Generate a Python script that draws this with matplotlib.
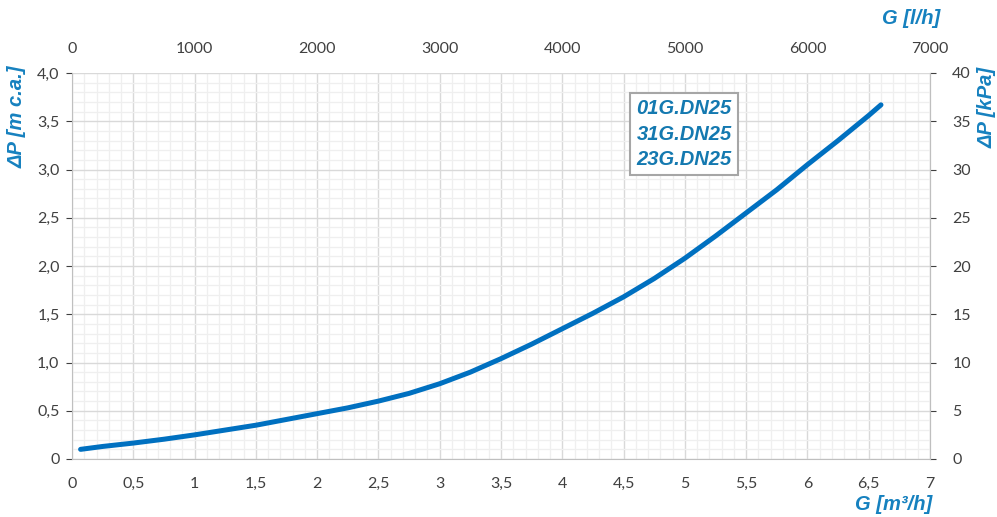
import numpy as np
import matplotlib.pyplot as plt
from matplotlib.ticker import MultipleLocator, FixedLocator

# Data (G in m3/h, dP in m c.a.)
flow_m3h = [0.07, 0.25, 0.5, 0.75, 1.0, 1.25, 1.5, 1.75, 2.0, 2.25, 2.5, 2.75, 3.0, 3.25,
            3.5, 3.75, 4.0, 4.25, 4.5, 4.75, 5.0, 5.25, 5.5, 5.75, 6.0, 6.25, 6.5, 6.6]
dp_mca = [0.10, 0.13, 0.165, 0.205, 0.25, 0.30, 0.35, 0.41, 0.47, 0.53, 0.60, 0.68, 0.78, 0.90,
          1.04, 1.19, 1.35, 1.51, 1.68, 1.87, 2.08, 2.31, 2.55, 2.79, 3.05, 3.30, 3.56, 3.67]

models = ['01G.DN25', '31G.DN25', '23G.DN25']

x_ticks = [0, 0.5, 1, 1.5, 2, 2.5, 3, 3.5, 4, 4.5, 5, 5.5, 6, 6.5, 7]
x_labels = ['0', '0,5', '1', '1,5', '2', '2,5', '3', '3,5', '4', '4,5', '5', '5,5', '6', '6,5', '7']
y_ticks = [0, 0.5, 1, 1.5, 2, 2.5, 3, 3.5, 4]
y_labels = ['0', '0,5', '1,0', '1,5', '2,0', '2,5', '3,0', '3,5', '4,0']
top_ticks = [0, 1000, 2000, 3000, 4000, 5000, 6000, 7000]
right_ticks = [0, 5, 10, 15, 20, 25, 30, 35, 40]

line_col = '#0070c0'
label_col = '#1681bf'
tick_col = '#404040'
spine_col = '#bfbfbf'

W, H = 997, 517
fig = plt.figure(figsize=(W / 100, H / 100), dpi=100)
ax = fig.add_axes([72 / W, 1 - 459 / H, (930 - 72) / W, (459 - 73) / H])

ax.plot(flow_m3h, dp_mca, color=line_col, lw=3.6, solid_capstyle='round',
        solid_joinstyle='round', zorder=5)

ax.set_xlim(0, 7)
ax.set_ylim(0, 4)
ax.xaxis.set_major_locator(FixedLocator(x_ticks))
ax.set_xticklabels(x_labels)
ax.yaxis.set_major_locator(FixedLocator(y_ticks))
ax.set_yticklabels(y_labels)
ax.xaxis.set_minor_locator(MultipleLocator(0.1))
ax.yaxis.set_minor_locator(MultipleLocator(0.1))
ax.grid(which='major', color='#d9d9d9', lw=1.0, zorder=1)
ax.grid(which='minor', color='#efefef', lw=0.9, zorder=0)
ax.set_axisbelow(True)

tick_family = ['Lato', 'DejaVu Sans']
tick_size = 11.5
for lab in ax.get_xticklabels() + ax.get_yticklabels():
    lab.set_fontfamily(tick_family)
    lab.set_fontsize(tick_size)
ax.tick_params(axis='x', which='major', colors=tick_col, length=0, pad=13)
ax.tick_params(axis='y', which='major', colors=tick_col, length=4, pad=5)
ax.tick_params(which='minor', length=0)
for s in ['left', 'bottom', 'right']:
    ax.spines[s].set_color(spine_col)
ax.spines['top'].set_visible(False)

# secondary axes: l/h on top, kPa on right
top = ax.secondary_xaxis('top', functions=(lambda x: x * 1000, lambda x: x / 1000))
top.set_xticks(top_ticks)
top.tick_params(colors=tick_col, length=0, pad=12, labelsize=tick_size)
top.spines['top'].set_visible(False)
right = ax.secondary_yaxis('right', functions=(lambda y: y * 10, lambda y: y / 10))
right.set_yticks(right_ticks)
right.tick_params(colors=tick_col, length=4, pad=12, labelsize=tick_size)
right.spines['right'].set_color(spine_col)
for lab in top.get_xticklabels() + right.get_yticklabels():
    lab.set_fontfamily(tick_family)

lab_font = dict(family=['Liberation Sans', 'DejaVu Sans'], size=14.5, weight='bold',
                style='italic', color=label_col)
fig.text(17 / W, 1 - 117 / H, 'ΔP [m c.a.]', rotation=90, ha='center', va='center', **lab_font)
fig.text(987 / W, 1 - 107 / H, 'ΔP [kPa]', rotation=90, ha='center', va='center', **lab_font)
fig.text(940 / W, 1 - 19 / H, 'G [l/h]', ha='right', va='center', **lab_font)
fig.text(932 / W, 1 - 505 / H, 'G [m³/h]', ha='right', va='center', **lab_font)

fig.text(684 / W, 1 - 134 / H, '\n'.join(models), ha='center', va='center',
         linespacing=1.45, family=['Liberation Sans', 'DejaVu Sans'], size=14.5,
         weight='bold', style='italic', color='#1479b0',
         bbox=dict(boxstyle='square,pad=0.3', fc='white', ec='#a6a6a6', lw=1.5))

fig.savefig('out.png', dpi=100)
